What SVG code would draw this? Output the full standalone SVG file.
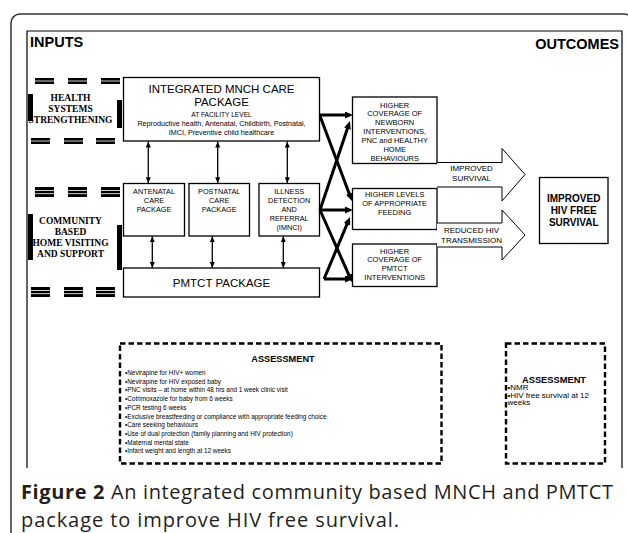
<svg xmlns="http://www.w3.org/2000/svg" width="628" height="533" viewBox="0 0 628 533">
<defs>
<style>
.box{fill:#fff;stroke:#000;stroke-width:1.3}
.sans{font-family:"Liberation Sans",Arial,sans-serif;fill:#000}
.serif{font-family:"Liberation Serif","Times New Roman",serif;font-weight:bold;fill:#000;font-size:9.5px;text-anchor:middle}
.c{text-anchor:middle}
.b{font-weight:bold}
.f75{font-size:7.5px}
.f73{font-size:7.3px}
.thick{stroke:#000;stroke-width:3;fill:none;marker-end:url(#ah)}
.thin{stroke:#000;stroke-width:1.3;fill:none;marker-start:url(#dh);marker-end:url(#dh)}
.dash{fill:none;stroke:#000;stroke-width:2.4;stroke-dasharray:5.5 3}
.cap{font-family:"Open Sans","DejaVu Sans",sans-serif;font-size:20px;fill:#231f20}
</style>
<marker id="ah" markerUnits="userSpaceOnUse" markerWidth="9" markerHeight="8" refX="4" refY="3.5" orient="auto"><path d="M0,0 L8,3.5 L0,7 z" fill="#000"/></marker>
<marker id="dh" markerUnits="userSpaceOnUse" markerWidth="6" markerHeight="5" refX="6" refY="2.5" orient="auto-start-reverse"><path d="M0,0 L6,2.5 L0,5 z" fill="#000"/></marker>
<g id="d2"><rect width="19" height="6" fill="#000"/><rect y="2.6" width="19" height="0.8" fill="#fff"/></g>
<g id="d3"><rect width="19" height="10" fill="#000"/><rect y="3" width="19" height="0.8" fill="#fff"/><rect y="6.3" width="19" height="0.8" fill="#fff"/></g>
</defs>
<rect width="628" height="533" fill="#fff"/>
<!-- frames -->
<rect x="11" y="14" width="622" height="560" rx="9" fill="none" stroke="#333" stroke-width="1.5"/>
<path d="M27,468 L27,31 L622,31 L622,468" fill="none" stroke="#000" stroke-width="1.2"/>
<text class="sans b" x="30" y="47" font-size="14.5">INPUTS</text>
<text class="sans b" x="619" y="49" font-size="14.5" text-anchor="end">OUTCOMES</text>

<g id="health-systems">
<use href="#d2" x="35" y="78"/><use href="#d2" x="68" y="78"/><use href="#d2" x="101" y="78"/>
<use href="#d2" x="31" y="138"/><use href="#d2" x="64" y="138"/><use href="#d2" x="96" y="138"/>
<text class="serif" x="70.5" y="101">HEALTH</text>
<text class="serif" x="70.5" y="112">SYSTEMS</text>
<text class="serif" x="70.5" y="123">STRENGTHENING</text>
<rect x="28" y="94" width="5" height="27" fill="#000"/>
<rect x="117" y="100" width="5" height="28" fill="#000"/>
</g>

<g id="community">
<use href="#d3" x="35" y="187"/><use href="#d3" x="68" y="187"/><use href="#d3" x="101" y="187"/>
<use href="#d3" x="31" y="287"/><use href="#d3" x="64" y="287"/><use href="#d3" x="96" y="287"/>
<text class="serif" x="70.5" y="224">COMMUNITY</text>
<text class="serif" x="70.5" y="235">BASED</text>
<text class="serif" x="70.5" y="246">HOME VISITING</text>
<text class="serif" x="70.5" y="257">AND SUPPORT</text>
<rect x="28" y="214" width="5" height="46" fill="#000"/>
<rect x="117" y="225" width="5" height="45" fill="#000"/>
</g>

<g id="mnch">
<rect class="box" x="123.5" y="77.5" width="196" height="63.5" stroke-width="1.6"/>
<text class="sans c" x="221.5" y="93" font-size="11.5">INTEGRATED MNCH CARE</text>
<text class="sans c" x="221.5" y="106" font-size="11.5">PACKAGE</text>
<text class="sans c" x="221.5" y="117" font-size="6.6">AT FACILITY LEVEL</text>
<text class="sans c" x="221.5" y="125.5" font-size="7.2">Reproductive health, Antenatal, Childbirth, Postnatal,</text>
<text class="sans c" x="221.5" y="134.5" font-size="7.2">IMCI, Preventive child healthcare</text>
</g>

<g id="antenatal">
<rect class="box" x="123.5" y="183.5" width="61" height="52.5"/>
<text class="sans c f73" x="154" y="194">ANTENATAL</text>
<text class="sans c f73" x="154" y="203">CARE</text>
<text class="sans c f73" x="154" y="212">PACKAGE</text>
</g>
<g id="postnatal">
<rect class="box" x="189" y="183.5" width="60.5" height="52.5"/>
<text class="sans c f73" x="219.2" y="194">POSTNATAL</text>
<text class="sans c f73" x="219.2" y="203">CARE</text>
<text class="sans c f73" x="219.2" y="212">PACKAGE</text>
</g>
<g id="illness">
<rect class="box" x="259" y="183.5" width="60.5" height="52.5"/>
<text class="sans c f73" x="289.2" y="194">ILLNESS</text>
<text class="sans c f73" x="289.2" y="203">DETECTION</text>
<text class="sans c f73" x="289.2" y="212">AND</text>
<text class="sans c f73" x="289.2" y="221">REFERRAL</text>
<text class="sans c f73" x="289.2" y="230">(IMNCI)</text>
</g>
<g id="pmtct">
<rect class="box" x="123.5" y="268" width="196" height="29" stroke-width="1.6"/>
<text class="sans c" x="221.5" y="287" font-size="11.5">PMTCT PACKAGE</text>
</g>

<g id="newborn">
<rect class="box" x="352.5" y="97" width="84.5" height="66.5"/>
<text class="sans c f75" x="394.7" y="107.5">HIGHER</text>
<text class="sans c f75" x="394.7" y="116.3">COVERAGE OF</text>
<text class="sans c f75" x="394.7" y="125.1">NEWBORN</text>
<text class="sans c f75" x="394.7" y="133.9">INTERVENTIONS,</text>
<text class="sans c f75" x="394.7" y="142.7">PNC and HEALTHY</text>
<text class="sans c f75" x="394.7" y="151.5">HOME</text>
<text class="sans c f75" x="394.7" y="160.6">BEHAVIOURS</text>
</g>
<g id="feeding">
<rect class="box" x="352.5" y="188.5" width="84.5" height="41"/>
<text class="sans c f75" x="394.7" y="197">HIGHER LEVELS</text>
<text class="sans c f75" x="394.7" y="206">OF APPROPRIATE</text>
<text class="sans c f75" x="394.7" y="214.7">FEEDING</text>
</g>
<g id="pmtct-coverage">
<rect class="box" x="352.5" y="244" width="84.5" height="42.5"/>
<text class="sans c f75" x="394.7" y="253.5">HIGHER</text>
<text class="sans c f75" x="394.7" y="262.3">COVERAGE OF</text>
<text class="sans c f75" x="394.7" y="271.1">PMTCT</text>
<text class="sans c f75" x="394.7" y="280">INTERVENTIONS</text>
</g>

<g id="improved-survival">
<path d="M437,162.5 L502,162.5 L502,148.5 L525,174.5 L502,201 L502,187 L437,187" fill="#fff" stroke="#000" stroke-width="1"/>
<text class="sans c" x="471.5" y="171" font-size="8">IMPROVED</text>
<text class="sans c" x="471.5" y="180.5" font-size="8">SURVIVAL</text>
</g>
<g id="reduced-transmission">
<path d="M437,223 L502,223 L502,210 L525,235 L502,260 L502,247 L437,247" fill="#fff" stroke="#000" stroke-width="1"/>
<text class="sans c" x="471.5" y="233" font-size="8">REDUCED HIV</text>
<text class="sans c" x="471.5" y="242.5" font-size="8">TRANSMISSION</text>
</g>

<g id="hiv-free">
<rect class="box" x="539.5" y="177.5" width="68.5" height="66"/>
<text class="sans c b" x="573.7" y="202.3" font-size="10">IMPROVED</text>
<text class="sans c b" x="573.7" y="214.3" font-size="10">HIV FREE</text>
<text class="sans c b" x="573.7" y="226.3" font-size="10">SURVIVAL</text>
</g>

<g id="connectors">
<line class="thin" x1="148.3" y1="141.5" x2="148.3" y2="183.3"/>
<line class="thin" x1="217.7" y1="141.5" x2="217.7" y2="183.3"/>
<line class="thin" x1="287.3" y1="141.5" x2="287.3" y2="183.3"/>
<line class="thin" x1="152.3" y1="236.2" x2="152.3" y2="268"/>
<line class="thin" x1="212.3" y1="236.2" x2="212.3" y2="268"/>
<line class="thin" x1="283.3" y1="236.2" x2="283.3" y2="268"/>
<line class="thick" x1="320" y1="115" x2="349" y2="115"/>
<line class="thick" x1="320" y1="116" x2="350.6" y2="197.3"/>
<line class="thick" x1="320" y1="210" x2="349" y2="210"/>
<line class="thick" x1="320" y1="210" x2="348.7" y2="124.8"/>
<line class="thick" x1="320" y1="210" x2="350.4" y2="278.4"/>
<line class="thick" x1="324" y1="279" x2="349" y2="279"/>
<line class="thick" x1="324" y1="279" x2="348.5" y2="220.7"/>
</g>

<g id="assessment-1">
<rect class="dash" x="120" y="343.5" width="321.5" height="120"/>
<text class="sans c b" x="283" y="361.5" font-size="9.2">ASSESSMENT</text>
<g class="sans" font-size="6.4">
<text x="125" y="375">•Nevirapine for HIV+ women</text>
<text x="125" y="383.7">•Nevirapine for HIV exposed baby</text>
<text x="125" y="392.4">•PNC visits – at home within 48 hrs and 1 week clinic visit</text>
<text x="125" y="401.1">•Cotrimoxazole for baby from 6 weeks</text>
<text x="125" y="409.8">•PCR testing 6 weeks</text>
<text x="125" y="418.5">•Exclusive breastfeeding or compliance with appropriate feeding choice</text>
<text x="125" y="427.2">•Care seeking behaviours</text>
<text x="125" y="435.9">•Use of dual protection (family planning and HIV protection)</text>
<text x="125" y="444.6">•Maternal mental state</text>
<text x="125" y="453.3">•Infant weight and length at 12 weeks</text>
</g>
</g>

<g id="assessment-2">
<rect class="dash" x="506" y="343.5" width="99" height="120"/>
<text class="sans c b" x="554" y="382.7" font-size="9.3">ASSESSMENT</text>
<text class="sans" font-size="8"><tspan x="507.5" y="390">•NMR</tspan><tspan x="507.5" y="397.5">•HIV free survival at 12</tspan><tspan x="507.5" y="405">weeks</tspan></text>
</g>

<text class="cap" x="21" y="499" textLength="592" lengthAdjust="spacing"><tspan font-weight="bold">Figure 2</tspan> An integrated community based MNCH and PMTCT</text>
<text class="cap" x="21" y="526.5" textLength="378" lengthAdjust="spacing">package to improve HIV free survival.</text>
</svg>
